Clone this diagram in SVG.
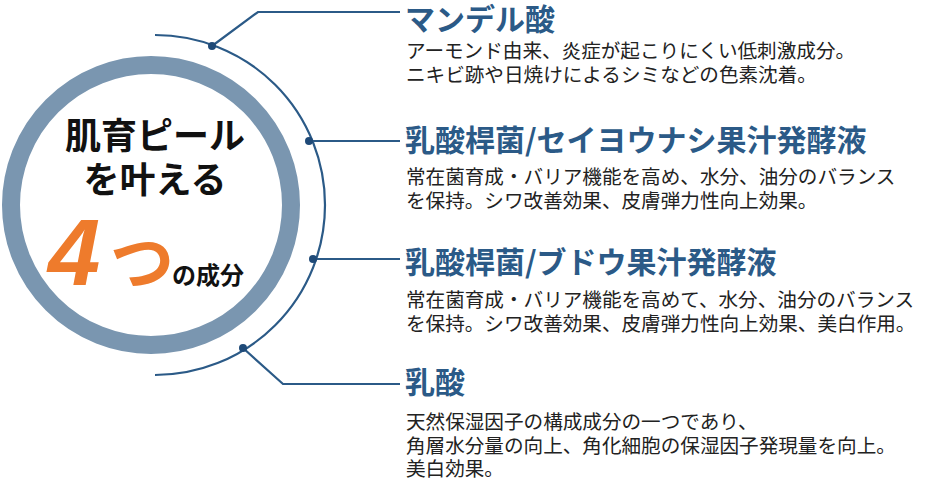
<svg xmlns="http://www.w3.org/2000/svg" width="934" height="481" viewBox="0 0 934 481">
<style>
.t{font-family:"Noto Sans CJK JP","Noto Sans",sans-serif;font-weight:bold;fill:#2b5a87;font-size:30px}
.b{font-family:"Noto Sans CJK JP","Noto Sans",sans-serif;fill:#222;font-size:19.6px}
.c{font-family:"Noto Sans CJK JP",sans-serif;font-weight:bold;fill:#111}
.ln{fill:none;stroke:#2b5a87;stroke-width:2.2}
.dot{fill:#1f4a78}
</style>
<rect width="934" height="481" fill="#fff"/>
<g id="hub">
<circle cx="151" cy="205" r="140" fill="#fff" stroke="#7a96b0" stroke-width="18"/>
<text class="c" x="155" y="149" font-size="36" text-anchor="middle">肌育ピール</text>
<text class="c" x="155" y="193" font-size="36" text-anchor="middle">を叶える</text>
<text x="48" y="285" font-family="Liberation Sans,sans-serif" font-style="italic" font-weight="bold" font-size="94" fill="#ee7b2c">4</text>
<text x="110" y="285" font-family="Noto Sans CJK JP,sans-serif" font-weight="bold" font-size="64" fill="#ee7b2c">つ</text>
<text class="c" x="172" y="284" font-size="24">の成分</text>
</g>
<g id="connectors">
<path class="ln" d="M155 35 A170 170 0 0 1 155 375"/>
<polyline class="ln" points="212,46 258,12 400,12"/>
<line class="ln" x1="309" y1="141" x2="400" y2="141"/>
<line class="ln" x1="313" y1="259" x2="400" y2="259" stroke="#1f3f6e"/>
<polyline class="ln" points="243,348 283,384 400,384"/>
<circle class="dot" cx="212" cy="46" r="4"/>
<circle class="dot" cx="309" cy="141" r="4"/>
<circle class="dot" cx="313" cy="259" r="4"/>
<circle class="dot" cx="243" cy="348" r="4"/>
</g>
<g id="n1">
<text class="t" x="405" y="30">マンデル酸</text>
<text class="b" x="406" y="58">アーモンド由来、炎症が起こりにくい低刺激成分。</text>
<text class="b" x="406" y="82">ニキビ跡や日焼けによるシミなどの色素沈着。</text>
</g>
<g id="n2">
<text class="t" x="405" y="151">乳酸桿菌/セイヨウナシ果汁発酵液</text>
<text class="b" x="406" y="184">常在菌育成・バリア機能を高め、水分、油分のバランス</text>
<text class="b" x="406" y="208">を保持。シワ改善効果、皮膚弾力性向上効果。</text>
</g>
<g id="n3">
<text class="t" x="405" y="273">乳酸桿菌/ブドウ果汁発酵液</text>
<text class="b" x="406" y="307">常在菌育成・バリア機能を高めて、水分、油分のバランス</text>
<text class="b" x="406" y="331">を保持。シワ改善効果、皮膚弾力性向上効果、美白作用。</text>
</g>
<g id="n4">
<text class="t" x="405" y="393">乳酸</text>
<text class="b" x="406" y="429">天然保湿因子の構成成分の一つであり、</text>
<text class="b" x="406" y="453">角層水分量の向上、角化細胞の保湿因子発現量を向上。</text>
<text class="b" x="406" y="476">美白効果。</text>
</g>
</svg>
